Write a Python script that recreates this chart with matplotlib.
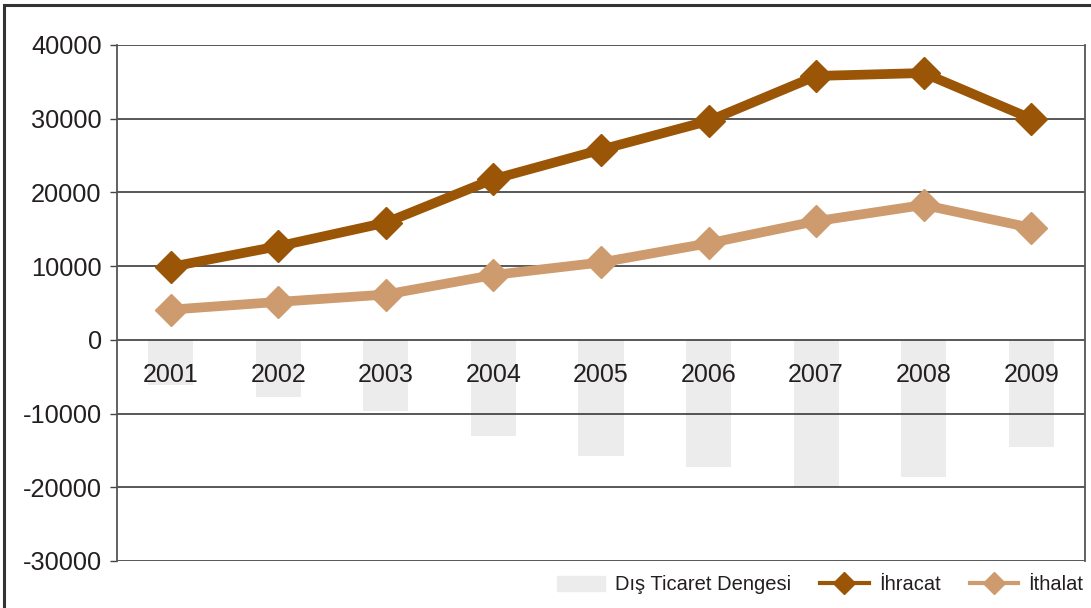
import numpy as np
import matplotlib.pyplot as plt
from matplotlib.patches import Rectangle, Patch
from matplotlib.lines import Line2D

plt.rcParams['font.family'] = ['Liberation Sans', 'DejaVu Sans']

# veriler
years = ['2001', '2002', '2003', '2004', '2005', '2006', '2007', '2008', '2009']
ihracat = [9900, 12700, 15900, 21800, 25800, 29700, 35800, 36200, 30000]
ithalat = [4100, 5150, 6150, 8800, 10500, 13100, 16100, 18300, 15200]
denge = [-6100, -7700, -9600, -13100, -15700, -17200, -19900, -18600, -14600]
yticks = [-30000, -20000, -10000, 0, 10000, 20000, 30000, 40000]

c_ihr = '#9A5507'
c_ith = '#CD9B6D'
c_bar = '#EBECEB'

fig = plt.figure(figsize=(10.91, 6.08), dpi=100, facecolor='white')
ax = fig.add_axes([117/1091, 1-561/608, (1085-117)/1091, (561-45)/608])

x = np.arange(len(years))
ax.bar(x, denge, width=0.42, color=c_bar, zorder=1)
ax.plot(x, ihracat, color=c_ihr, lw=7, marker='D', ms=16, zorder=4)
ax.plot(x, ithalat, color=c_ith, lw=7, marker='D', ms=16, zorder=4)

# yatay çizgiler
for v in yticks:
    ax.axhline(v, color='#2a2a2a', lw=1.1, zorder=2)

# yıl etiketleri sıfır çizgisinin altında
for i, yr in enumerate(years):
    ax.annotate(yr, (i, 0), xytext=(0, -35), textcoords='offset pixels',
                ha='center', va='center', fontsize=18, color='#231f20', zorder=3)

ax.set_xlim(-0.5, len(years) - 0.5)
ax.set_ylim(-30000, 40000)
ax.set_yticks(yticks)
ax.set_yticklabels([str(v) for v in yticks], fontsize=18.3, color='#231f20')
ax.set_xticks([])
ax.tick_params(axis='y', length=5, width=1, color='#444444', pad=6)
for s in ['top', 'bottom']:
    ax.spines[s].set_visible(False)
for s in ['left', 'right']:
    ax.spines[s].set_color('#555555')
    ax.spines[s].set_linewidth(1.3)

# lejant
handles = [Patch(color=c_bar),
           Line2D([], [], color=c_ihr, lw=3, marker='D', ms=11.5),
           Line2D([], [], color=c_ith, lw=3, marker='D', ms=11.5)]
labels = ['Dış Ticaret Dengesi', 'İhracat', 'İthalat']
fig.legend(handles, labels, loc='center right', bbox_to_anchor=(1083/1091, 1-585/608),
           ncol=3, frameon=False, fontsize=14.5, handlelength=2.4, handleheight=0.7,
           handletextpad=0.5, columnspacing=1.45, borderpad=0, borderaxespad=0,
           labelcolor='#231f20')

# dış çerçeve
fig.add_artist(Rectangle((4/1091, -0.2), 1.2, 1.2 - 5/608, transform=fig.transFigure,
                         fill=False, lw=2.2, ec='#333333'))

fig.savefig('out.png', dpi=100)
